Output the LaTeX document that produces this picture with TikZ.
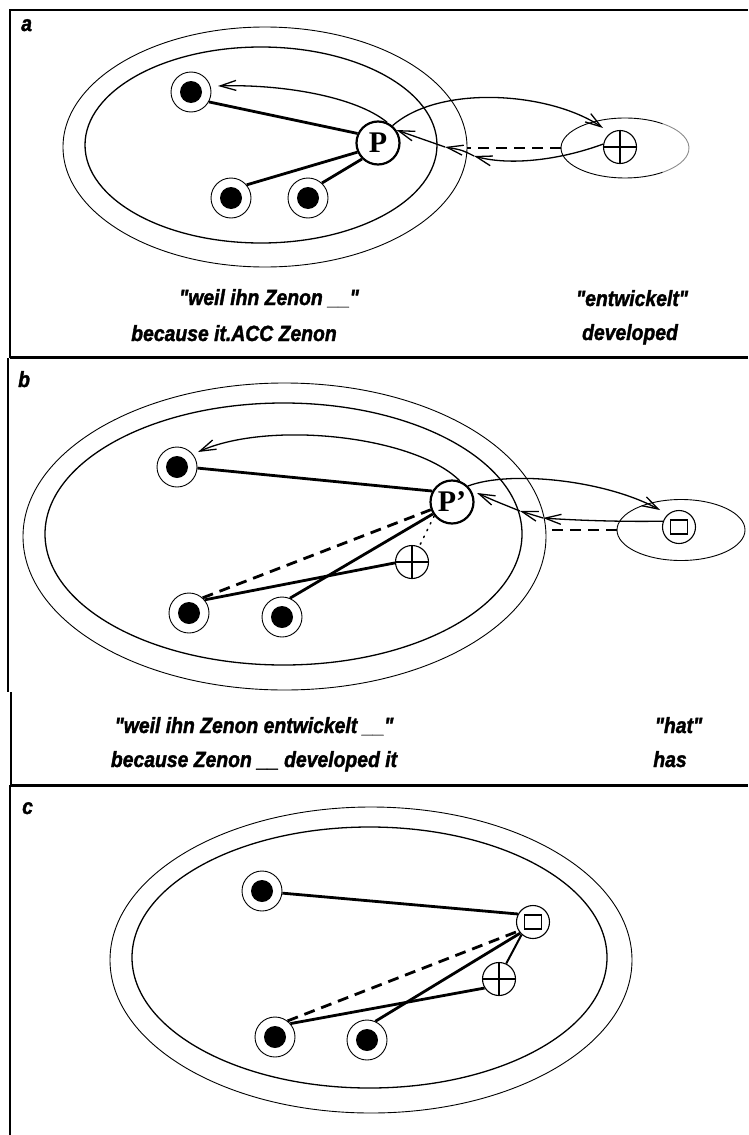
\documentclass[tikz,border=0pt]{standalone}
\usepackage{fontspec}
\usetikzlibrary{arrows.meta,shapes.geometric}
\newfontfamily\capfont[FakeStretch=0.88, BoldItalicFeatures={FakeBold=1.6}]{Liberation Sans}
\newfontfamily\pfont{Liberation Serif}

\begin{document}
\begin{tikzpicture}[x=1pt,y=-1pt,
  frame/.style={line width=2pt},
  divider/.style={line width=3pt},
  zone/.style={ellipse, draw, line width=0.9pt, inner sep=0pt},
  corezone/.style={zone, line width=1.3pt},
  dotnode/.style={circle, draw, fill=white, line width=0.9pt, minimum size=40pt, inner sep=0pt,
    path picture={\fill[black] (path picture bounding box.center) circle[radius=11pt];}},
  oplusnode/.style={circle, draw, fill=white, line width=1.1pt, minimum size=33pt, inner sep=0pt,
    path picture={\draw[line width=1.1pt]
      (path picture bounding box.north) -- (path picture bounding box.south)
      (path picture bounding box.west) -- (path picture bounding box.east);}},
  boxnode/.style={circle, draw, fill=white, line width=1.1pt, minimum size=33pt, inner sep=0pt,
    path picture={\draw[line width=1.5pt]
      ([shift={(-8.5pt,-7pt)}]path picture bounding box.center) rectangle
      ([shift={(8.5pt,7pt)}]path picture bounding box.center);}},
  pnode/.style={circle, draw, fill=white, line width=2.2pt, minimum size=43pt, inner sep=0pt,
    font=\pfont\bfseries\fontsize{30}{30}\selectfont},
  bond/.style={line width=2.8pt},
  dashbond/.style={line width=2.8pt, dash pattern=on 11pt off 7pt},
  dotbond/.style={line width=1.5pt, dash pattern=on 1.5pt off 6pt, line cap=round},
  link/.style={line width=1.3pt, -{Straight Barb[length=16pt,width=10pt]}},
  caption/.style={font=\capfont\bfseries\itshape\fontsize{22}{24}\selectfont, inner sep=0pt, anchor=base},
  tag/.style={font=\capfont\bfseries\itshape\fontsize{22}{24}\selectfont, inner sep=0pt, anchor=base west}
]
\useasboundingbox (0,0) rectangle (748,1135);

% ---------- frame ----------
\draw[line width=1.3pt] (10,10) -- (748,10);
\draw[frame] (10,9) -- (10,358);
\draw[frame] (8,358) -- (8,692);
\draw[frame] (11,692) -- (11,785);
\draw[frame] (10,785) -- (10,1135);
\draw[divider] (10,357.5) -- (748,357.5);
\draw[divider] (10,785) -- (748,785);

\node[tag] (la) at (21,31) {a};
\node[tag] (lb) at (18,387) {b};
\node[tag] (lc) at (22,814) {c};

% ---------- panel a ----------
\node[zone, minimum width=404pt, minimum height=240pt] (aOuter) at (265,147) {};
\node[corezone, minimum width=352pt, minimum height=196pt] (aInner) at (261,145) {};
\node[zone, draw=none, minimum width=128pt, minimum height=60pt] (aDom) at (625,148) {};
\draw[line width=0.9pt] (aDom.center) ++(54:64pt and 30pt)
  arc[start angle=54, end angle=306, x radius=64pt, y radius=30pt];
\draw[line width=0.9pt, black!45] (aDom.center) ++(54:64pt and 30pt)
  arc[start angle=54, end angle=-54, x radius=64pt, y radius=30pt];

\node[dotnode] (aT) at (191,92) {};
\node[dotnode] (aBL) at (231,198) {};
\node[dotnode] (aBR) at (308,198) {};
\node[pnode] (aP) at (378,143) {P};
\node[oplusnode] (aX) at (620,147) {};

\draw[bond] (aT.-29) -- (aP.155);
\draw[bond] (aBL.40) -- (aP.204);
\draw[bond] (aBR.47) -- (aP.225);
\draw[dashbond] (aDom.west) -- (aOuter.east |- aDom.west);

\coordinate (aTipT) at (218,86);
\coordinate (aTipX) at (603,128);
\coordinate (aMid1) at (474,156);
\coordinate (aMid2) at (445,147);
\draw[link] (aP.66) .. controls (355,96) and (280,84) .. (aTipT);
\draw[link] (aP.50) .. controls (440,84) and (550,92) .. (aTipX);
\draw[link] (aX.170) .. controls (560,160) and (510,166) .. (aMid1);
\draw[link] (aMid1) .. controls (462,150) .. (aMid2);
\draw[link] (aMid2) -- (aP.35);

\node[caption] (a1) at (269,305) {"weil ihn Zenon \textcolor{black!55}{\_\_}"};
\node[caption] (a2) at (234,341) {because it.ACC Zenon};
\node[caption] (a3) at (632,306) {"entwickelt"};
\node[caption] (a4) at (630,340) {developed};

% ---------- panel b ----------
\node[zone, minimum width=523pt, minimum height=307pt] (bOuter) at (284.5,536.5) {};
\node[corezone, minimum width=477pt, minimum height=262pt] (bInner) at (283.5,534) {};
\node[zone, minimum width=128pt, minimum height=61pt] (bDom) at (681,530) {};

\node[dotnode] (bT) at (177,467) {};
\node[dotnode] (bBL) at (189,613) {};
\node[dotnode] (bBR) at (282,617) {};
\node[pnode] (bP) at (452,502) {P’};
\node[oplusnode] (bX) at (412,562) {};
\node[boxnode] (bS) at (679,527) {};

\draw[bond] (bT.-3) -- (bP.151);
\draw[dashbond] (bBL.48) -- (bP.200);
\draw[bond] (bBL.40) -- (bX.183);
\draw[bond] (bBR.67) -- (bP.212);
\draw[dotbond] (bP.218) -- (bX.65);
\draw[dashbond] (bDom.west) -- (bOuter.east |- bDom.west);

\coordinate (bTipT) at (198,452);
\coordinate (bTipS) at (660,510);
\coordinate (bMid1) at (543,518);
\coordinate (bMid2) at (520,511);
\coordinate (bTipP) at (477,493);
\draw[link] (bP.70) .. controls (415,436) and (270,420) .. (bTipT);
\draw[link] (bP.45) .. controls (510,470) and (605,480) .. (bTipS);
\draw[link] (bS.160) .. controls (620,522) and (570,520) .. (bMid1);
\draw[link] (bMid1) -- (bMid2);
\draw[link] (bMid2) .. controls (495,501) .. (bTipP);

\node[caption] (b1) at (254,733) {"weil ihn Zenon entwickelt \textcolor{black!55}{\_\_}"};
\node[caption] (b2) at (254,767) {because Zenon \_\_ developed it};
\node[caption] (b3) at (678.5,733) {"hat"};
\node[caption] (b4) at (670,767) {has};

% ---------- panel c ----------
\node[zone, minimum width=522pt, minimum height=306pt] (cOuter) at (371,960) {};
\node[corezone, minimum width=475pt, minimum height=261pt] (cInner) at (369.5,957.5) {};

\node[dotnode] (cT) at (262,891) {};
\node[dotnode] (cBL) at (275,1037) {};
\node[dotnode] (cBR) at (367,1040) {};
\node[boxnode] (cS) at (533,922) {};
\node[oplusnode] (cX) at (499,979) {};

\draw[bond] (cT.-6) -- (cS.152);
\draw[dashbond] (cBL.52) -- (cS.212);
\draw[bond] (cBL.41) -- (cX.212);
\draw[bond] (cBR.66) -- (cS.221);
\draw[line width=2pt] (cX.65) -- (cS.228);
\end{tikzpicture}
\end{document}
